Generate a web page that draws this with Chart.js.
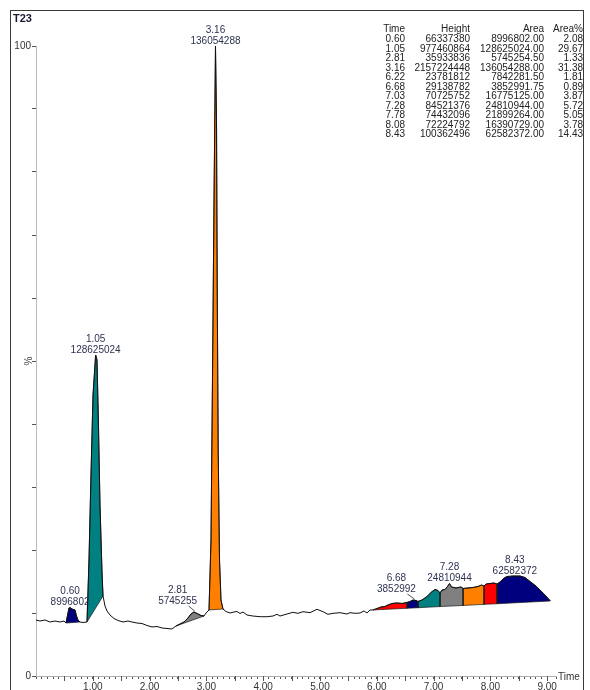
<!DOCTYPE html>
<html>
<head>
<meta charset="utf-8">
<script src="https://cdn.jsdelivr.net/npm/chart.js@4"></script>
<style>
  html, body { margin: 0; padding: 0; background: #fff; }
  canvas { display: block; }
</style>
</head>
<body>
<canvas id="chrom" width="590" height="690"></canvas>
<script>
// Chromatogram trace: retention time (min) and relative intensity (%)
const traceTime = [
  0.000, 0.070, 0.158, 0.246, 0.335, 0.423, 0.493, 0.528, 0.563, 0.581,
  0.600, 0.634, 0.687, 0.713, 0.739, 0.775, 0.827, 0.898, 0.933, 0.968,
  1.004, 1.050, 1.074, 1.100, 1.127, 1.162, 1.180, 1.215, 1.250, 1.303,
  1.373, 1.444, 1.532, 1.620, 1.690, 1.778, 1.866, 1.954, 2.042, 2.130,
  2.218, 2.306, 2.394, 2.465, 2.535, 2.606, 2.676, 2.729, 2.780, 2.835,
  2.905, 2.958, 2.993, 3.046, 3.081, 3.107, 3.134, 3.160, 3.178, 3.192,
  3.208, 3.231, 3.257, 3.292, 3.345, 3.415, 3.486, 3.539, 3.592, 3.644,
  3.715, 3.820, 3.944, 4.067, 4.173, 4.243, 4.296, 4.419, 4.525, 4.613,
  4.701, 4.824, 4.947, 5.053, 5.141, 5.229, 5.352, 5.475, 5.528, 5.616,
  5.704, 5.775, 5.827, 5.880, 5.933, 6.004, 6.074, 6.144, 6.197, 6.268,
  6.356, 6.444, 6.532, 6.585, 6.637, 6.690, 6.725, 6.796, 6.884, 6.963,
  7.025, 7.077, 7.113, 7.148, 7.201, 7.245, 7.280, 7.315, 7.394, 7.482,
  7.518, 7.606, 7.694, 7.782, 7.843, 7.887, 7.923, 7.993, 8.063, 8.116,
  8.169, 8.231, 8.292, 8.398, 8.521, 8.609, 8.697, 8.812, 8.935, 9.049
];
const traceValue = [
  8.89, 8.73, 8.89, 8.57, 8.73, 8.57, 8.73, 8.41, 10.00, 10.79,
  10.87, 10.63, 10.48, 9.52, 8.89, 8.57, 8.49, 8.57, 18.41, 31.90,
  44.60, 50.95, 50.16, 39.84, 27.14, 16.51, 12.70, 11.11, 10.32, 9.68,
  9.13, 8.81, 8.57, 8.73, 8.57, 8.41, 8.33, 8.02, 7.78, 7.86,
  7.62, 7.54, 7.46, 7.94, 8.25, 8.57, 9.21, 9.84, 10.16, 9.92,
  9.60, 9.52, 10.00, 10.48, 21.59, 46.98, 75.56, 100.00, 88.25, 59.68,
  35.87, 18.41, 12.06, 10.63, 10.24, 10.00, 10.16, 10.24, 9.92, 10.16,
  9.68, 9.52, 9.41, 9.41, 9.52, 9.79, 9.52, 9.84, 10.11, 9.95,
  10.21, 10.05, 10.59, 10.21, 9.79, 9.95, 10.05, 9.84, 10.05, 9.95,
  10.00, 10.32, 10.00, 10.48, 10.48, 10.71, 10.95, 11.03, 11.27, 11.51,
  11.59, 11.51, 11.67, 11.83, 12.06, 11.98, 11.83, 12.06, 12.62, 13.33,
  13.73, 13.57, 13.17, 13.65, 13.73, 14.21, 14.68, 14.13, 13.97, 14.13,
  13.89, 13.97, 14.05, 14.21, 14.44, 14.29, 14.60, 14.68, 14.76, 14.60,
  14.92, 15.48, 15.79, 15.87, 15.87, 15.63, 15.00, 14.21, 13.10, 11.98
];

// Integrated peaks (peak table)
const peakTimes   = [0.60, 1.05, 2.81, 3.16, 6.22, 6.68, 7.03, 7.28, 7.78, 8.08, 8.43];
const peakHeights = [66337380, 977460864, 35933836, 2157224448, 23781812, 29138782,
                     70725752, 84521376, 74432096, 72224792, 100362496];
const peakAreas   = [8996802.00, 128625024.00, 5745254.50, 136054288.00, 7842281.50, 3852991.75,
                     16775125.00, 24810944.00, 21899264.00, 16390729.00, 62582372.00];
const peakAreaPct = [2.08, 29.67, 1.33, 31.38, 1.81, 0.89, 3.87, 5.72, 5.05, 3.78, 14.43];

// Integration windows (start / end time) and baseline level at each end (%)
const peakFrom = [0.528, 0.898, 2.465, 3.046, 5.933, 6.532, 6.725, 7.113, 7.518, 7.887, 8.116];
const peakTo   = [0.775, 1.180, 2.958, 3.292, 6.532, 6.725, 7.113, 7.518, 7.887, 8.116, 9.049];
const baseFrom = [8.41, 8.57, 7.94, 10.48, 10.48, 10.75, 10.84, 11.02, 11.20, 11.37, 11.47];
const baseTo   = [8.57, 12.70, 9.52, 10.63, 10.75, 10.84, 11.02, 11.20, 11.37, 11.47, 11.90];

// Peaks that carry a time / area annotation
const labelledPeaks = [0, 1, 2, 3, 5, 7, 10];

// Table header
const tableHeader = ['Time', 'Height', 'Area', 'Area%'];

// ---- styling ----
const FONT = "'Liberation Sans', Arial, Helvetica, sans-serif";
const NAVY = '#00007f', TEAL = '#008080', GREY = '#808080', ORANGE = '#ff8000', RED = '#ff0000';
const peakColors = [NAVY, TEAL, GREY, ORANGE, RED, NAVY, TEAL, GREY, ORANGE, RED, NAVY];
// horizontal shift (px) for annotations that sit beside their peak with a leader line
const labelNudge = { 2: -18, 5: -19 };

const isWhole = v => Math.abs(v - Math.round(v)) < 1e-6;
const isHalf = v => Math.abs(v * 2 - Math.round(v * 2)) < 1e-6;

const tracePoints = traceTime.map((t, i) => ({ x: t, y: traceValue[i] }));

// one closed polygon per peak: trace over the window, then back along the baseline
const peakDatasets = peakTimes.map((_, i) => {
  const pts = tracePoints.filter(p => p.x >= peakFrom[i] - 1e-9 && p.x <= peakTo[i] + 1e-9);
  pts.push({ x: peakTo[i], y: baseTo[i] });
  pts.push({ x: peakFrom[i], y: baseFrom[i] });
  pts.push({ x: pts[0].x, y: pts[0].y });
  return {
    data: pts,
    fill: 'shape',
    backgroundColor: peakColors[i],
    borderColor: '#1a1a1a',
    borderWidth: 0.7,
    pointRadius: 0,
    tension: 0,
    order: 1
  };
});

const decor = {
  id: 'decor',
  beforeDraw(chart) {
    const ctx = chart.ctx;
    ctx.save();
    ctx.fillStyle = '#fff';
    ctx.fillRect(0, 0, chart.width, chart.height);
    ctx.restore();
  },
  afterDraw(chart) {
    const ctx = chart.ctx;
    const xs = chart.scales.x, ys = chart.scales.y;
    const bottom = chart.chartArea.bottom;
    ctx.save();

    // frame
    ctx.strokeStyle = '#3a3a3a';
    ctx.lineWidth = 1;
    ctx.strokeRect(10.5, 10.5, 573, 700);

    // longer marks on the time axis every half minute
    ctx.strokeStyle = '#555';
    ctx.beginPath();
    xs.ticks.forEach(t => {
      if (t.value > 0 && isHalf(t.value)) {
        const px = Math.round(xs.getPixelForValue(t.value)) + 0.5;
        ctx.moveTo(px, bottom);
        ctx.lineTo(px, bottom + 5);
      }
    });
    ctx.stroke();

    // sample name
    ctx.fillStyle = '#1a1a33';
    ctx.font = 'bold 11px ' + FONT;
    ctx.textAlign = 'left';
    ctx.textBaseline = 'alphabetic';
    ctx.fillText('T23', 13, 22);

    // axis titles
    ctx.fillStyle = '#444';
    ctx.font = '10px ' + FONT;
    ctx.save();
    ctx.translate(29, ys.getPixelForValue(50));
    ctx.rotate(-Math.PI / 2);
    ctx.textAlign = 'center';
    ctx.textBaseline = 'middle';
    ctx.fillText('%', 0, 0);
    ctx.restore();
    ctx.textAlign = 'left';
    ctx.textBaseline = 'middle';
    ctx.fillStyle = '#333';
    ctx.fillText('Time', 558, bottom + 1);

    // peak table
    ctx.fillStyle = '#222';
    ctx.font = '10px ' + FONT;
    ctx.textAlign = 'right';
    ctx.textBaseline = 'middle';
    const colX = [405, 470, 544, 583];
    tableHeader.forEach((h, c) => ctx.fillText(h, colX[c], 29.5));
    peakTimes.forEach((t, r) => {
      const y = 39.5 + r * 9.5;
      ctx.fillText(t.toFixed(2), colX[0], y);
      ctx.fillText(String(peakHeights[r]), colX[1], y);
      ctx.fillText(peakAreas[r].toFixed(2), colX[2], y);
      ctx.fillText(peakAreaPct[r].toFixed(2), colX[3], y);
    });

    // peak annotations: retention time and rounded area
    ctx.fillStyle = '#2e3350';
    ctx.strokeStyle = '#222';
    ctx.lineWidth = 0.8;
    ctx.textAlign = 'center';
    labelledPeaks.forEach(i => {
      let top = -Infinity;
      traceTime.forEach((t, k) => {
        if (t >= peakFrom[i] - 1e-9 && t <= peakTo[i] + 1e-9) top = Math.max(top, traceValue[k]);
      });
      const x0 = xs.getPixelForValue(peakTimes[i]);
      const yApex = ys.getPixelForValue(top);
      const nudge = labelNudge[i] || 0;
      const lx = x0 + nudge;
      const l2 = yApex - 5 - (nudge ? 6 : 0);
      ctx.fillText(peakTimes[i].toFixed(2), lx, l2 - 11);
      ctx.fillText(String(Math.round(peakAreas[i])), lx, l2);
      if (nudge) {
        ctx.beginPath();
        ctx.moveTo(lx + 11, l2 + 5);
        ctx.lineTo(x0 - 1, yApex - 1);
        ctx.stroke();
      }
    });
    ctx.restore();
  }
};

Chart.defaults.font.family = FONT;

new Chart(document.getElementById('chrom'), {
  type: 'line',
  data: {
    datasets: [
      {
        data: tracePoints,
        borderColor: '#111',
        borderWidth: 1,
        pointRadius: 0,
        tension: 0,
        fill: false,
        order: 0
      },
      ...peakDatasets
    ]
  },
  options: {
    responsive: false,
    devicePixelRatio: 1,
    animation: false,
    events: [],
    layout: { padding: { left: 0, top: 46, right: 34, bottom: 0 } },
    plugins: {
      legend: { display: false },
      tooltip: { enabled: false },
      title: { display: false }
    },
    scales: {
      x: {
        type: 'linear',
        min: 0,
        max: 9.155,
        afterFit(s) { s.height = 14; },
        border: { display: true, color: '#b0b0b0', width: 1 },
        grid: { display: true, drawOnChartArea: false, drawTicks: true, tickLength: 3, tickColor: '#555', tickWidth: 1 },
        ticks: {
          stepSize: 0.1,
          autoSkip: false,
          maxRotation: 0,
          minRotation: 0,
          padding: 2,
          color: '#333',
          font: { size: 10, family: FONT },
          callback: v => (v > 0 && isWhole(v)) ? Number(v).toFixed(2) : ''
        }
      },
      y: {
        type: 'linear',
        min: 0,
        max: 100,
        afterFit(s) { s.width = 36; },
        border: { display: true, color: '#b8b8b8', width: 1 },
        grid: { display: true, drawOnChartArea: false, drawTicks: true, tickLength: 4, tickColor: '#555', tickWidth: 1 },
        ticks: {
          stepSize: 10,
          padding: 1,
          color: '#333',
          font: { size: 10, family: FONT },
          callback: v => (v === 0 || v === 100) ? String(v) : ''
        }
      }
    }
  },
  plugins: [decor]
});
</script>
</body>
</html>
